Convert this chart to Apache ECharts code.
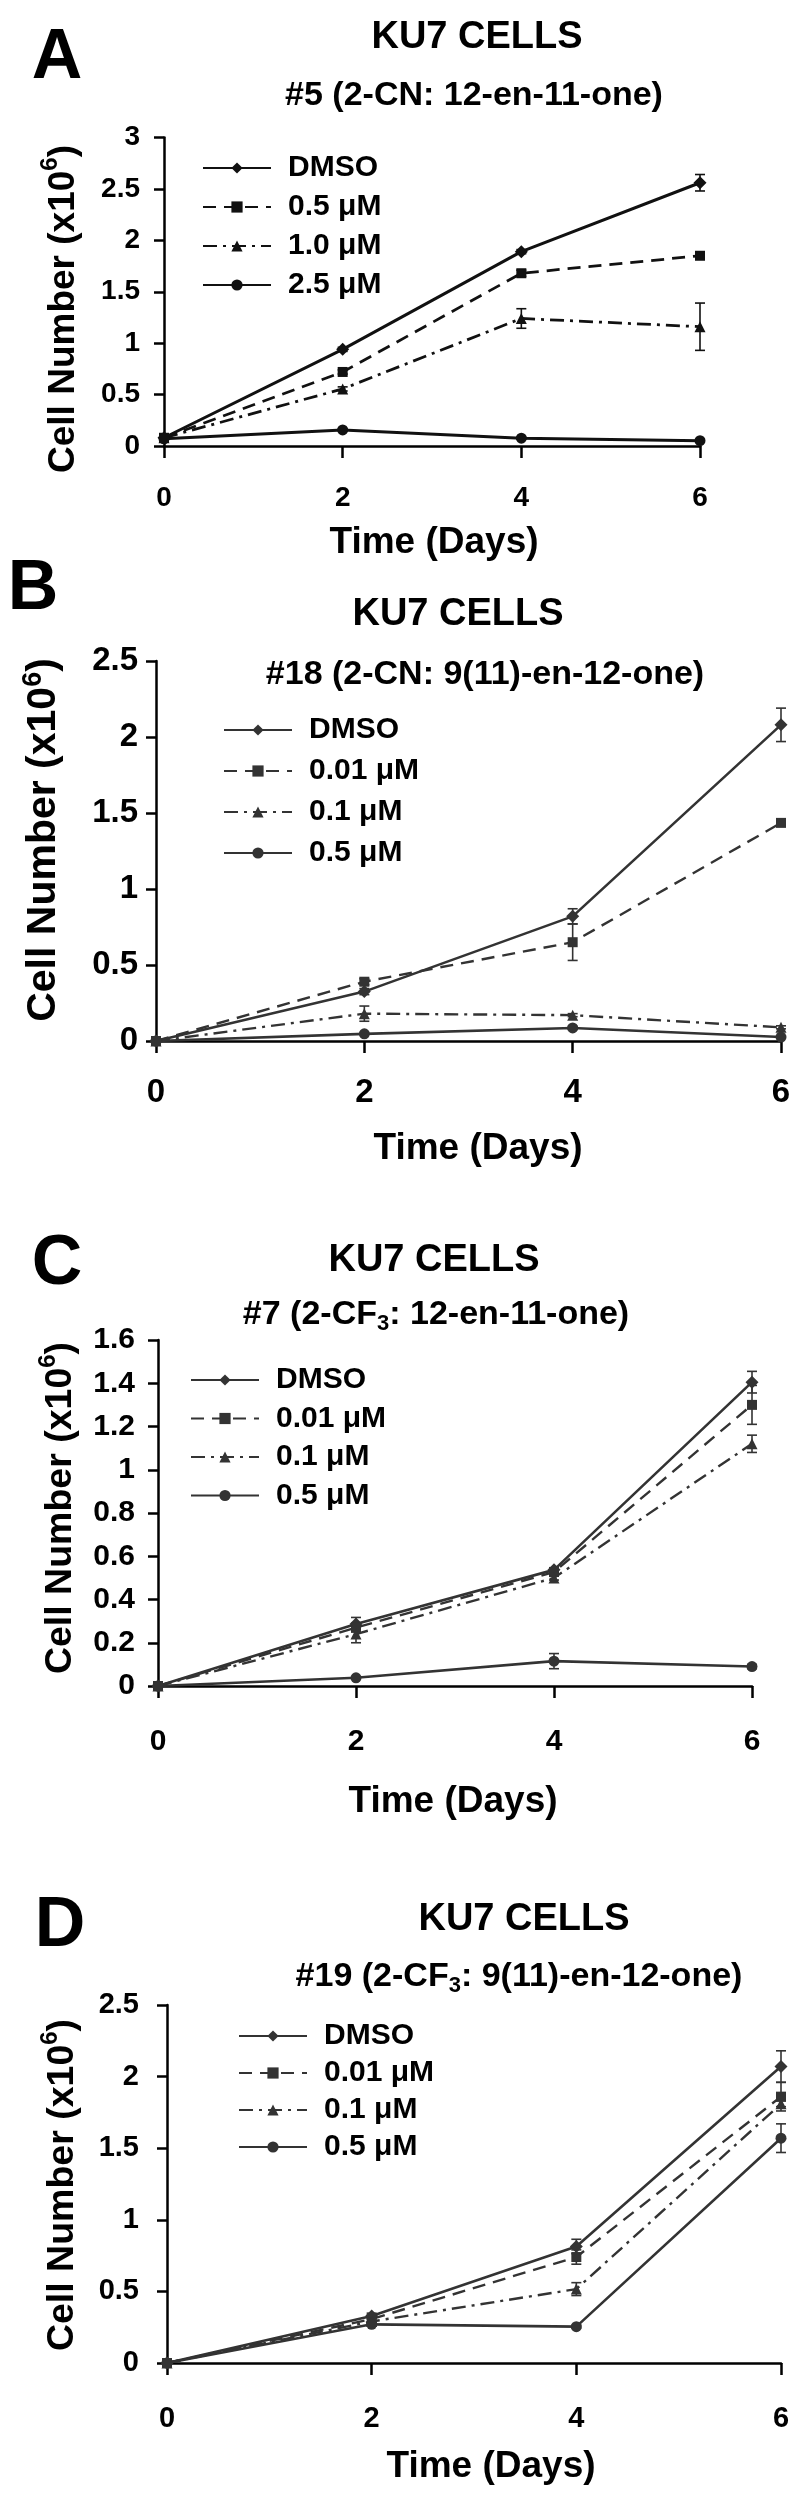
<!DOCTYPE html>
<html><head><meta charset="utf-8">
<script src="https://cdn.jsdelivr.net/npm/echarts@6/dist/echarts.min.js"></script>
<style>html,body{margin:0;padding:0;background:#fff}#c{width:800px;height:2500px}</style>
</head><body><div id="c"></div>
<script>
const days = [0, 2, 4, 6];
const xTicks = ['0', '2', '4', '6'];

// Panel A
const aNames = ['DMSO', '0.5 μM', '1.0 μM', '2.5 μM'];
const aDMSO = [0.08, 0.94, 1.89, 2.56];
const aS2 = [0.08, 0.72, 1.68, 1.85];
const aS3 = [0.08, 0.555, 1.24, 1.16];
const aS4 = [0.07, 0.156, 0.076, 0.052];
const aErr1 = [0, 0.02, 0.02, 0.08];
const aErr2 = [0, 0.02, 0.03, 0.02];
const aErr3 = [0, 0.02, 0.095, 0.23];
const aErr4 = [0, 0.01, 0.01, 0.01];

// Panel B
const bNames = ['DMSO', '0.01 μM', '0.1 μM', '0.5 μM'];
const bDMSO = [0, 0.325, 0.82, 2.08];
const bS2 = [0, 0.39, 0.65, 1.435];
const bS3 = [0, 0.18, 0.17, 0.09];
const bS4 = [0, 0.047, 0.086, 0.026];
const bErr1 = [0, 0.02, 0.05, 0.11];
const bErr2 = [0, 0.02, 0.12, 0.02];
const bErr3 = [0, 0.05, 0.01, 0.01];
const bErr4 = [0, 0.005, 0.01, 0.005];

// Panel C
const cNames = ['DMSO', '0.01 μM', '0.1 μM', '0.5 μM'];
const cDMSO = [0, 0.287, 0.537, 1.405];
const cS2 = [0, 0.27, 0.527, 1.30];
const cS3 = [0, 0.24, 0.50, 1.12];
const cS4 = [0, 0.038, 0.115, 0.09];
const cErr1 = [0, 0.03, 0.01, 0.05];
const cErr2 = [0, 0.02, 0.01, 0.09];
const cErr3 = [0, 0.04, 0.01, 0.04];
const cErr4 = [0, 0.005, 0.035, 0.01];

// Panel D
const dNames = ['DMSO', '0.01 μM', '0.1 μM', '0.5 μM'];
const dDMSO = [0, 0.328, 0.814, 2.07];
const dS2 = [0, 0.307, 0.74, 1.86];
const dS3 = [0, 0.29, 0.516, 1.81];
const dS4 = [0, 0.27, 0.254, 1.57];
const dErr1 = [0, 0.02, 0.05, 0.11];
const dErr2 = [0, 0.02, 0.05, 0.10];
const dErr3 = [0, 0.02, 0.045, 0.02];
const dErr4 = [0, 0.01, 0.01, 0.10];

const panelTitles = ['KU7 CELLS', 'KU7 CELLS', 'KU7 CELLS', 'KU7 CELLS'];
const panelSubs = [
  '{a|#5 (2-CN: 12-en-11-one)}',
  '{a|#18 (2-CN: 9(11)-en-12-one)}',
  '{a|#7 (2-CF}{s|3}{a|: 12-en-11-one)}',
  '{a|#19 (2-CF}{s|3}{a|: 9(11)-en-12-one)}'
];
const panelLetters = ['A', 'B', 'C', 'D'];
const yMax = [3, 2.5, 1.6, 2.5];
const yInterval = [0.5, 0.5, 0.2, 0.5];
const xName = 'Time (Days)';
const yName = '{a|Cell Number (x10}{s|6}{a|)}';

const FF = '"Liberation Sans", Arial, Helvetica, sans-serif';
const INK = ['#111111', '#333333', '#333333', '#333333'];

const panels = [
  {names: aNames, vals: [aDMSO, aS2, aS3, aS4], errs: [aErr1, aErr2, aErr3, aErr4]},
  {names: bNames, vals: [bDMSO, bS2, bS3, bS4], errs: [bErr1, bErr2, bErr3, bErr4]},
  {names: cNames, vals: [cDMSO, cS2, cS3, cS4], errs: [cErr1, cErr2, cErr3, cErr4]},
  {names: dNames, vals: [dDMSO, dS2, dS3, dS4], errs: [dErr1, dErr2, dErr3, dErr4]}
];

// layout (positions / sizes)
const L = [
  {grid: {left: 164, top: 137.5, width: 536, height: 308.5}, tick: 28, xm: 38, ym: 24, yfs: 37, lw: 3,
   letter: [57, 59], title: [477, 38], sub: [474, 96], xn: [434, 543], yn: [60, 309],
   legend: {left: 202, top: 153, gap: 9}},
  {grid: {left: 156, top: 661, width: 625, height: 380}, tick: 33, xm: 35, ym: 18, yfs: 41, lw: 2.6,
   letter: [33, 590], title: [458, 615], sub: [485, 675], xn: [478, 1149], yn: [42, 840],
   legend: {left: 223, top: 715, gap: 11}},
  {grid: {left: 158, top: 1340, width: 594, height: 346}, tick: 30, xm: 41, ym: 23, yfs: 37.5, lw: 2.6,
   letter: [57, 1265], title: [434, 1261], sub: [436, 1315], xn: [453, 1802], yn: [58, 1508],
   legend: {left: 190, top: 1365, gap: 8.5}},
  {grid: {left: 167, top: 2005, width: 614, height: 358}, tick: 29, xm: 41, ym: 28, yfs: 37.5, lw: 2.6,
   letter: [60, 1927], title: [524, 1920], sub: [519, 1977], xn: [491, 2467], yn: [60, 2185],
   legend: {left: 238, top: 2021, gap: 7}}
];

const symbols = ['diamond', 'rect', 'triangle', 'circle'];
const symSizes = [13, 10, 11, 11];
const lineTypes = ['solid', [13, 8], [14, 6, 3, 6], 'solid'];
const lineScale = [1, 0.92, 0.92, 1];

const grids = [], xAxes = [], yAxes = [], series = [], legends = [], graphics = [];

panels.forEach((p, i) => {
  const l = L[i];
  grids.push(Object.assign({containLabel: false}, l.grid));
  xAxes.push({
    type: 'value', gridIndex: i, min: 0, max: 6, interval: 2,
    axisLine: {onZero: false, lineStyle: {color: '#000', width: 2.5}},
    axisTick: {show: true, inside: false, length: 12, lineStyle: {color: '#000', width: 2.5}},
    axisLabel: {margin: l.xm, color: '#000', fontFamily: FF, fontWeight: 'bold', fontSize: l.tick,
      formatter: v => xTicks[days.indexOf(v)] !== undefined ? xTicks[days.indexOf(v)] : ''},
    splitLine: {show: false}
  });
  yAxes.push({
    type: 'value', gridIndex: i, min: 0, max: yMax[i], interval: yInterval[i],
    axisLine: {show: true, lineStyle: {color: '#000', width: 2.5}},
    axisTick: {show: true, length: 10, lineStyle: {color: '#000', width: 2.5}},
    axisLabel: {margin: l.ym, color: '#000', fontFamily: FF, fontWeight: 'bold', fontSize: l.tick,
      formatter: v => String(Math.round(v * 10) / 10)},
    splitLine: {show: false}
  });
  const legendData = [];
  p.names.forEach((nm, k) => {
    const sname = panelLetters[i] + '|' + nm;
    legendData.push(sname);
    series.push({
      type: 'line', name: sname, xAxisIndex: i, yAxisIndex: i,
      data: days.map((d, j) => [d, p.vals[k][j]]),
      symbol: symbols[k], symbolSize: symSizes[k], clip: false,
      lineStyle: {color: INK[i], width: l.lw * lineScale[k], type: lineTypes[k]},
      itemStyle: {color: INK[i]},
      emphasis: {disabled: true}, z: 3
    });
    series.push({
      type: 'custom', name: sname + '|err', xAxisIndex: i, yAxisIndex: i,
      data: days.map((d, j) => [d, p.vals[k][j] - p.errs[k][j], p.vals[k][j] + p.errs[k][j]]),
      clip: false, z: 2, silent: true,
      renderItem: (params, api) => {
        const lo = api.coord([api.value(0), api.value(1)]);
        const hi = api.coord([api.value(0), api.value(2)]);
        if (Math.abs(hi[1] - lo[1]) < 2) return null;
        const w = 5;
        const st = {stroke: INK[i], lineWidth: 1.6};
        return {type: 'group', children: [
          {type: 'line', shape: {x1: lo[0], y1: lo[1], x2: hi[0], y2: hi[1]}, style: st},
          {type: 'line', shape: {x1: lo[0] - w, y1: lo[1], x2: lo[0] + w, y2: lo[1]}, style: st},
          {type: 'line', shape: {x1: hi[0] - w, y1: hi[1], x2: hi[0] + w, y2: hi[1]}, style: st}
        ]};
      }
    });
  });
  legends.push({
    data: legendData, orient: 'vertical', left: l.legend.left, top: l.legend.top,
    itemGap: l.legend.gap, itemWidth: 68, itemHeight: 14, padding: 0, selectedMode: false,
    formatter: n => n.split('|')[1],
    textStyle: {color: '#000', fontFamily: FF, fontWeight: 'bold', fontSize: 30, lineHeight: 30, padding: [0, 0, 0, 12]}
  });
  graphics.push({type: 'text', x: l.letter[0], y: l.letter[1],
    style: {text: panelLetters[i], font: 'bold 70px ' + FF, fill: '#000', align: 'center', verticalAlign: 'middle'}});
  graphics.push({type: 'text', x: l.title[0], y: l.title[1],
    style: {text: panelTitles[i], font: 'bold 38px ' + FF, fill: '#000', align: 'center', verticalAlign: 'middle'}});
  graphics.push({type: 'text', x: l.sub[0], y: l.sub[1],
    style: {text: panelSubs[i], align: 'center', verticalAlign: 'middle',
      rich: {a: {fontFamily: FF, fontWeight: 'bold', fontSize: 34, lineHeight: 40, fill: '#000', verticalAlign: 'middle'},
             s: {fontFamily: FF, fontWeight: 'bold', fontSize: 22, lineHeight: 40, fill: '#000', verticalAlign: 'bottom'}}}});
  graphics.push({type: 'text', x: l.xn[0], y: l.xn[1],
    style: {text: xName, font: 'bold 37px ' + FF, fill: '#000', align: 'center', verticalAlign: 'middle'}});
  graphics.push({type: 'text', x: l.yn[0], y: l.yn[1], rotation: Math.PI / 2,
    style: {text: yName, align: 'center', verticalAlign: 'middle',
      rich: {a: {fontFamily: FF, fontWeight: 'bold', fontSize: l.yfs, lineHeight: 44, fill: '#000', verticalAlign: 'bottom'},
             s: {fontFamily: FF, fontWeight: 'bold', fontSize: Math.round(l.yfs * 0.65), lineHeight: 44, fill: '#000', verticalAlign: 'top'}}}});
});

const chart = echarts.init(document.getElementById('c'), null, {renderer: 'canvas'});
chart.setOption({
  animation: false,
  backgroundColor: '#fff',
  grid: grids, xAxis: xAxes, yAxis: yAxes, series: series, legend: legends,
  graphic: {elements: graphics}
});
</script></body></html>
